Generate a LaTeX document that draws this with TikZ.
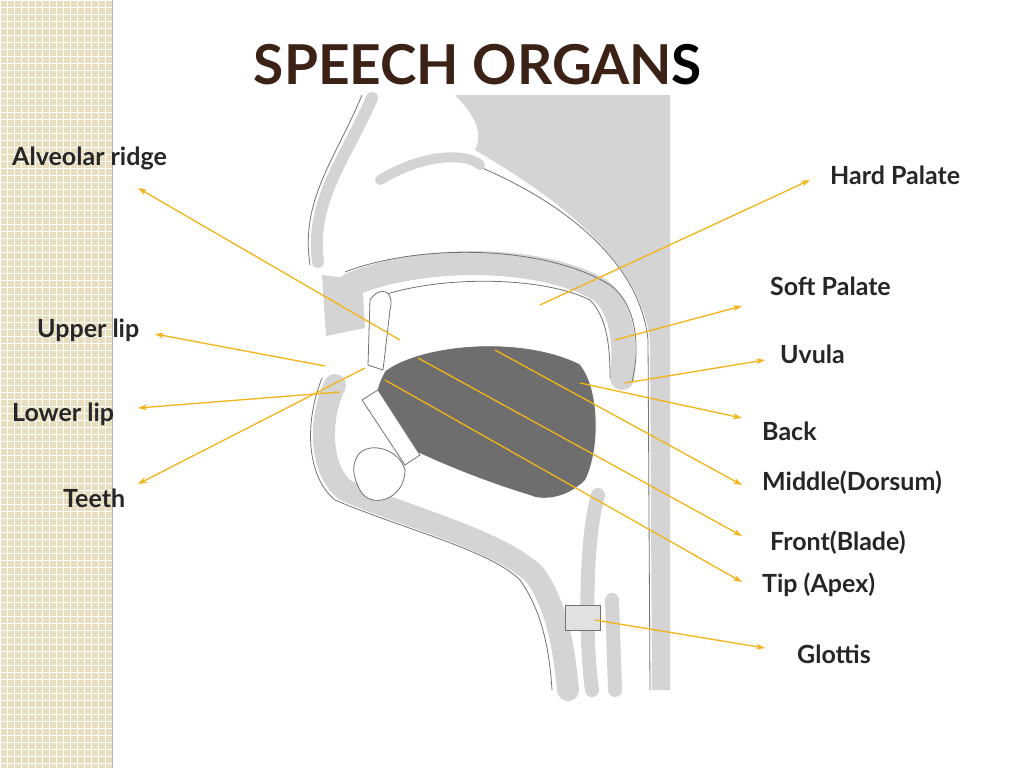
\documentclass[tikz,border=0pt]{standalone}
\usepackage{fontspec}
\setmainfont{Lato}
\usetikzlibrary{arrows.meta}
\definecolor{strip}{HTML}{E8DDBE}
\definecolor{tissue}{HTML}{D4D4D4}
\definecolor{tongue}{HTML}{6E6E6E}
\definecolor{pointer}{HTML}{F2B418}
\definecolor{titlebrown}{HTML}{3B2116}
\tikzset{
every node/.style={inner sep=0pt},
organ/.style={anchor=west, font=\fontsize{25}{28}\selectfont\bfseries, text=black!85},
pointer/.style={draw=pointer, line width=1.3pt, -{Stealth[length=9pt,width=6pt]}},
band/.style={draw=tissue, line cap=round, line join=round},
edge/.style={draw=black!55, line width=0.8pt}
}
\begin{document}
\begin{tikzpicture}[x=1pt,y=-1pt]
\useasboundingbox (0,0) rectangle (1024,768);
\fill[white] (0,0) rectangle (1024,768);
% left strip
\fill[strip] (0,0) rectangle (112,768);
\foreach \k in {0,7,...,112} \draw[white, line width=0.6pt] (\k,0) -- (\k,768);
\foreach \k in {0,7,...,768} \draw[white, line width=0.6pt] (0,\k) -- (112,\k);
\draw[black!30, line width=1pt] (112,0) -- (112,768);
\node (title) at (478,65) {\fontsize{55}{60}\selectfont\bfseries\textcolor{titlebrown}{SPEECH ORGAN}S};
% back of head
\fill[tissue] (455,95) -- (670,95) -- (670,690) -- (652,690) -- (650,340)
  .. controls (640,260) and (560,200) .. (475,150) .. controls (485,130) and (470,110) .. cycle;
\draw[edge] (650,690) -- (648,340) .. controls (640,260) and (560,200) .. (475,165);
% nose
\draw[band, line width=12pt] (372,98) .. controls (345,160) and (310,200) .. (318,262);
\draw[edge] (362,95) .. controls (335,160) and (300,200) .. (310,265);
\draw[band, line width=10pt] (380,180) .. controls (430,150) and (470,155) .. (480,165);
% palate band
\draw[band, line width=24pt] (350,285) .. controls (420,255) and (540,255) .. (600,290)
  .. controls (625,310) and (625,350) .. (622,378);
\draw[edge] (345,272) .. controls (420,243) and (545,245) .. (610,285) .. controls (638,305) and (640,350) .. (632,382);
\draw[edge] (370,300) .. controls (430,275) and (540,275) .. (590,300) .. controls (608,318) and (610,350) .. (610,378);
% upper lip
\fill[tissue] (322,275) -- (362,280) -- (365,328) -- (326,336) -- cycle;
% lower jaw
\draw[band, line width=22pt] (335,385) .. controls (318,420) and (320,470) .. (345,490)
  .. controls (400,515) and (500,540) .. (535,575) .. controls (560,610) and (565,660) .. (568,690);
\draw[edge] (322,378) .. controls (305,420) and (305,475) .. (335,500)
  .. controls (400,528) and (490,550) .. (520,580) .. controls (545,615) and (550,660) .. (552,690);
% pharynx front
\draw[band, line width=14pt] (598,495) .. controls (585,540) and (585,640) .. (592,690);
\draw[band, line width=14pt] (612,600) -- (615,690);
% tongue
\fill[tongue] (385,372) .. controls (420,345) and (520,335) .. (580,365)
  .. controls (600,390) and (600,450) .. (585,480) .. controls (565,500) and (540,500) .. (530,495)
  .. controls (480,480) and (420,455) .. (395,440) .. controls (372,420) and (372,395) .. cycle;
\draw[edge] (385,372) .. controls (420,345) and (520,335) .. (580,365);
% teeth and cavities
\filldraw[fill=white, draw=black!55, line width=0.8pt] (370,300) .. controls (380,285) and (395,290) .. (390,310)
  -- (383,370) -- (368,365) -- cycle;
\filldraw[fill=white, draw=black!55, line width=0.8pt] (362,400) -- (378,390) -- (420,455) -- (405,465) -- cycle;
\filldraw[fill=white, draw=black!55, line width=0.8pt] (358,455) .. controls (370,440) and (400,450) .. (405,470)
  .. controls (405,500) and (370,510) .. (360,490) .. controls (352,475) and (352,465) .. cycle;
% glottis
\filldraw[fill=tissue!70, draw=black!55, line width=0.7pt] (565,605) rectangle (600,630);
% tails
\coordinate (tAlv) at (400,340);
\coordinate (tHard) at (540,305);
\coordinate (tSoft) at (615,340);
\coordinate (tUpper) at (325,366);
\coordinate (tUvula) at (625,383);
\coordinate (tLower) at (340,392);
\coordinate (tTeeth) at (365,368);
\coordinate (tBack) at (580,383);
\coordinate (tMid) at (495,350);
\coordinate (tFront) at (418,358);
\coordinate (tTip) at (385,380);
\coordinate (tGlot) at (595,620);
% heads
\coordinate (hAlv) at (138,188);
\coordinate (hHard) at (810,180);
\coordinate (hSoft) at (742,306);
\coordinate (hUpper) at (155,334);
\coordinate (hUvula) at (765,360);
\coordinate (hLower) at (138,408);
\coordinate (hTeeth) at (138,484);
\coordinate (hBack) at (742,418);
\coordinate (hMid) at (742,485);
\coordinate (hFront) at (742,536);
\coordinate (hTip) at (742,582);
\coordinate (hGlot) at (765,648);
% labels
\node[organ] (alv) at (12,158) {Alveolar ridge};
\node[organ] (hard) at (830,175) {Hard Palate};
\node[organ] (soft) at (770,286) {Soft Palate};
\node[organ] (upper) at (37,330) {Upper lip};
\node[organ] (uvula) at (780,354) {Uvula};
\node[organ] (lower) at (12,414) {Lower lip};
\node[organ] (teeth) at (63,498) {Teeth};
\node[organ] (back) at (762,431) {Back};
\node[organ] (mid) at (762,483) {Middle(Dorsum)};
\node[organ] (front) at (770,543) {Front(Blade)};
\node[organ] (tip) at (762,585) {Tip (Apex)};
\node[organ] (glot) at (797,654) {Glottis};
% pointers
\draw[pointer] (tAlv) -- (hAlv);
\draw[pointer] (tHard) -- (hHard);
\draw[pointer] (tSoft) -- (hSoft);
\draw[pointer] (tUpper) -- (hUpper);
\draw[pointer] (tUvula) -- (hUvula);
\draw[pointer] (tLower) -- (hLower);
\draw[pointer] (tTeeth) -- (hTeeth);
\draw[pointer] (tBack) -- (hBack);
\draw[pointer] (tMid) -- (hMid);
\draw[pointer] (tFront) -- (hFront);
\draw[pointer] (tTip) -- (hTip);
\draw[pointer] (tGlot) -- (hGlot);
\end{tikzpicture}
\end{document}
